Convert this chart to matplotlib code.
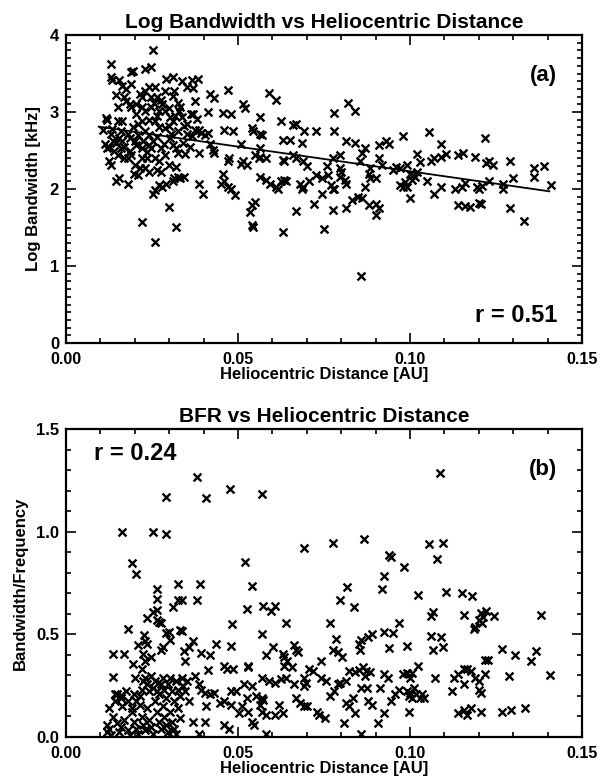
import matplotlib
matplotlib.use("Agg")
import matplotlib.pyplot as plt
from matplotlib.ticker import MultipleLocator
import numpy as np

plt.rcParams['font.family'] = ['Liberation Sans', 'DejaVu Sans']
plt.rcParams['font.weight'] = 'bold'

# ---------------- data: panel (a) ----------------
a_dist = [
    0.0253, 0.0130, 0.0130, 0.0135, 0.0153, 0.0190, 0.0195, 0.0230, 0.0247, 0.0145,
    0.0170, 0.0247, 0.0258, 0.0290, 0.0310, 0.0336, 0.0385, 0.0370, 0.0420, 0.0430,
    0.0470, 0.0590, 0.0610, 0.0515, 0.0520, 0.0456, 0.0480, 0.0414, 0.0370, 0.0362,
    0.0329, 0.0318, 0.0565, 0.0626, 0.0660, 0.0668, 0.0693, 0.0727, 0.0780, 0.0780,
    0.0820, 0.0840, 0.0815, 0.0840, 0.0776, 0.0796, 0.0980, 0.1056, 0.1090, 0.1217,
    0.1140, 0.1155, 0.1190, 0.1220, 0.1230, 0.1240, 0.1290, 0.1360, 0.1390, 0.1360,
    0.1300, 0.1270, 0.1270, 0.1410, 0.1290, 0.1330, 0.1140, 0.1160, 0.1175, 0.1205,
    0.1200, 0.1230, 0.1200, 0.1195, 0.1210, 0.1130, 0.1150, 0.1160, 0.1070, 0.1090,
    0.1060, 0.1070, 0.1090, 0.1105, 0.1030, 0.1020, 0.0950, 0.0960, 0.0970, 0.0990,
    0.0970, 0.0980, 0.0985, 0.0990, 0.1000, 0.1000, 0.1010, 0.1020, 0.1005, 0.1015,
    0.1050, 0.0910, 0.0930, 0.0940, 0.0910, 0.0920, 0.0900, 0.0885, 0.0870, 0.0860,
    0.0855, 0.0880, 0.0885, 0.0870, 0.0860, 0.0850, 0.0830, 0.0880, 0.0900, 0.0910,
    0.0900, 0.0857, 0.0815, 0.0776, 0.0750, 0.0720, 0.0670, 0.0630, 0.0540, 0.0545,
    0.0548, 0.0540, 0.0535, 0.0490, 0.0480, 0.0470, 0.0450, 0.0460, 0.0455, 0.0470,
    0.0475, 0.0485, 0.0460, 0.0510, 0.0515, 0.0527, 0.0510, 0.0540, 0.0545, 0.0565,
    0.0570, 0.0565, 0.0565, 0.0580, 0.0550, 0.0560, 0.0565, 0.0580, 0.0593, 0.0610,
    0.0615, 0.0625, 0.0635, 0.0640, 0.0630, 0.0635, 0.0630, 0.0650, 0.0660, 0.0670,
    0.0685, 0.0690, 0.0700, 0.0680, 0.0685, 0.0690, 0.0705, 0.0727, 0.0745, 0.0762,
    0.0770, 0.0776, 0.0760, 0.0745, 0.0796, 0.0800, 0.0796, 0.0810, 0.0815, 0.0780,
    0.0108, 0.0120, 0.0114, 0.0120, 0.0125, 0.0125, 0.0130, 0.0145, 0.0153, 0.0180,
    0.0150, 0.0164, 0.0153, 0.0164, 0.0180, 0.0186, 0.0190, 0.0203, 0.0215, 0.0220,
    0.0203, 0.0208, 0.0220, 0.0170, 0.0180, 0.0190, 0.0200, 0.0215, 0.0197, 0.0210,
    0.0242, 0.0247, 0.0253, 0.0231, 0.0242, 0.0259, 0.0264, 0.0276, 0.0280, 0.0287,
    0.0270, 0.0287, 0.0287, 0.0298, 0.0303, 0.0310, 0.0320, 0.0326, 0.0287, 0.0298,
    0.0320, 0.0326, 0.0331, 0.0343, 0.0315, 0.0310, 0.0292, 0.0280, 0.0270, 0.0259,
    0.0253, 0.0298, 0.0320, 0.0259, 0.0220, 0.0353, 0.0365, 0.0376, 0.0343, 0.0353,
    0.0380, 0.0387, 0.0392, 0.0404, 0.0414, 0.0420, 0.0426, 0.0431, 0.0387, 0.0387,
    0.0398, 0.0365, 0.0353, 0.0376, 0.0326, 0.0331, 0.0310, 0.0315, 0.0242, 0.0231,
    0.0190, 0.0164, 0.0175, 0.0175, 0.0186, 0.0220, 0.0231, 0.0248, 0.0150, 0.0159,
    0.0150, 0.0137, 0.0131, 0.0203, 0.0220, 0.0220, 0.0236, 0.0259, 0.0270, 0.0264,
    0.0276, 0.0231, 0.0242, 0.0303, 0.0310, 0.0326, 0.0337, 0.0276, 0.0115, 0.0135,
    0.0140, 0.0170, 0.0185, 0.0200, 0.0210, 0.0225, 0.0235, 0.0265, 0.0270, 0.0240,
    0.0255, 0.0265, 0.0300, 0.0305, 0.0340, 0.0345, 0.0360, 0.0285, 0.0195, 0.0160,
    0.0145,
]
a_logbw = [
    3.80, 3.62, 3.46, 3.42, 3.42, 3.52, 3.53, 3.56, 3.58, 3.22,
    3.20, 3.19, 3.32, 3.43, 3.46, 3.40, 3.43, 3.31, 3.23, 3.18,
    3.28, 3.25, 3.15, 3.10, 3.05, 2.99, 2.98, 3.00, 2.97, 2.97,
    3.01, 2.95, 2.93, 2.88, 2.83, 2.84, 2.75, 2.75, 2.75, 2.99,
    3.12, 3.01, 2.62, 2.60, 2.40, 2.44, 2.69, 2.74, 2.58, 2.66,
    2.44, 2.47, 2.42, 2.34, 2.36, 2.31, 2.36, 2.27, 2.30, 2.16,
    2.14, 2.07, 2.00, 2.05, 1.75, 1.59, 1.79, 1.78, 1.76, 1.80,
    1.82, 2.10, 2.00, 2.02, 2.04, 2.00, 2.03, 2.08, 1.94, 2.03,
    2.36, 2.40, 2.42, 2.45, 2.35, 2.46, 2.25, 2.28, 2.27, 2.31,
    2.05, 2.03, 2.09, 2.02, 1.88, 2.20, 2.18, 2.22, 2.12, 2.15,
    2.10, 2.57, 2.62, 2.58, 2.40, 2.31, 2.14, 2.27, 2.53, 2.47,
    2.36, 2.20, 2.14, 2.03, 1.88, 1.89, 1.86, 1.79, 1.81, 1.75,
    1.66, 0.87, 1.75, 1.73, 1.48, 1.81, 1.72, 1.44, 1.53, 1.51,
    1.83, 1.79, 1.70, 1.92, 2.00, 2.03, 2.07, 2.10, 2.20, 2.36,
    2.40, 2.75, 2.77, 2.58, 2.36, 2.31, 2.33, 2.79, 2.75, 2.72,
    2.70, 2.53, 2.42, 2.40, 2.44, 2.40, 2.16, 2.12, 2.07, 2.03,
    2.00, 2.10, 2.12, 2.10, 2.38, 2.36, 2.64, 2.64, 2.44, 2.40,
    2.60, 2.37, 2.30, 2.07, 2.00, 2.03, 2.10, 2.18, 2.14, 2.18,
    2.05, 2.00, 2.30, 1.94, 2.27, 2.22, 2.16, 2.12, 2.07, 2.00,
    2.76, 2.90, 2.58, 2.53, 2.55, 2.36, 2.31, 2.10, 2.14, 2.07,
    2.88, 2.88, 2.66, 2.62, 2.71, 2.66, 3.06, 3.10, 3.23, 3.19,
    2.97, 2.84, 2.88, 2.40, 2.40, 2.44, 2.31, 2.27, 2.20, 2.18,
    2.57, 2.53, 2.62, 2.75, 2.70, 2.88, 2.95, 3.15, 3.10, 3.27,
    3.01, 3.01, 2.79, 2.82, 2.66, 2.57, 2.53, 2.47, 2.44, 2.31,
    2.29, 2.16, 2.14, 2.16, 2.14, 2.10, 2.07, 2.03, 2.05, 1.99,
    1.94, 1.77, 1.51, 1.31, 1.57, 2.71, 2.69, 2.77, 2.82, 2.84,
    2.91, 2.77, 2.73, 2.70, 2.73, 2.58, 2.51, 2.47, 2.47, 2.07,
    1.94, 3.41, 3.32, 3.14, 3.12, 3.06, 3.21, 3.27, 3.32, 3.27,
    3.36, 3.34, 3.30, 3.14, 3.10, 3.06, 3.01, 3.06, 3.06, 2.53,
    2.44, 2.62, 2.71, 2.57, 2.53, 2.40, 2.40, 2.40, 2.36, 2.25,
    2.22, 2.27, 2.22, 2.93, 2.88, 2.75, 2.93, 2.53, 2.92, 2.78,
    2.50, 2.55, 2.50, 2.62, 2.70, 2.62, 2.48, 2.68, 2.80, 2.90,
    3.12, 3.20, 3.05, 2.72, 2.60, 2.45, 2.55, 2.58, 2.80, 2.75,
    2.60,
]
# fitted regression line (end points)
a_fit_dist = [0.0095, 0.1405]
a_fit_logbw = [2.81, 1.97]

# ---------------- data: panel (b) ----------------
b_dist = [
    0.0380, 0.0478, 0.0569, 0.0292, 0.0408, 0.1088, 0.0164, 0.0253, 0.0292, 0.0192,
    0.0203, 0.0521, 0.0541, 0.0691, 0.0777, 0.0866, 0.1056, 0.1095, 0.1079, 0.0940,
    0.0946, 0.0984, 0.0924, 0.0918, 0.0818, 0.0796, 0.0837, 0.1023, 0.1106, 0.1150,
    0.1180, 0.1380, 0.1156, 0.1068, 0.1062, 0.1206, 0.1213, 0.1200, 0.1208, 0.1190,
    0.1185, 0.1222, 0.1245, 0.1062, 0.1090, 0.1095, 0.1068, 0.1073, 0.0968, 0.0924,
    0.0951, 0.0890, 0.0879, 0.0857, 0.0851, 0.0855, 0.0940, 0.0990, 0.0768, 0.0785,
    0.0777, 0.0790, 0.0801, 0.0741, 0.0640, 0.0663, 0.0669, 0.0674, 0.0602, 0.0630,
    0.0635, 0.0641, 0.0633, 0.0580, 0.0574, 0.0607, 0.0596, 0.0569, 0.0525, 0.0482,
    0.0480, 0.0436, 0.0419, 0.0414, 0.0392, 0.0370, 0.0359, 0.0342, 0.0345, 0.0331,
    0.0336, 0.0326, 0.0336, 0.0326, 0.0390, 0.0380, 0.0312, 0.0292, 0.0298, 0.0303,
    0.0275, 0.0264, 0.0264, 0.0264, 0.0264, 0.0270, 0.0253, 0.0236, 0.0227, 0.0231,
    0.0236, 0.0208, 0.0181, 0.0170, 0.0136, 0.0136, 0.0142, 0.0159, 0.0194, 0.0200,
    0.0224, 0.0229, 0.0220, 0.0247, 0.0275, 0.0281,
    0.0375, 0.0386, 0.0392, 0.0403, 0.0420, 0.0370, 0.0403, 0.0386, 0.0408, 0.0430,
    0.0447, 0.0458, 0.0458, 0.0475, 0.0458, 0.0469, 0.0486, 0.0480, 0.0493, 0.0480,
    0.0502, 0.0513, 0.0525, 0.0516, 0.0530, 0.0530, 0.0530, 0.0541, 0.0547, 0.0541,
    0.0552, 0.0569, 0.0574, 0.0563, 0.0569, 0.0580, 0.0580, 0.0569, 0.0591, 0.0607,
    0.0624, 0.0640, 0.0619, 0.0630, 0.0607, 0.0657, 0.0663, 0.0669, 0.0680, 0.0691,
    0.0702, 0.0691, 0.0697, 0.0691, 0.0707, 0.0718, 0.0729, 0.0735, 0.0752, 0.0741,
    0.0757, 0.0768, 0.0779, 0.0790, 0.0796, 0.0813, 0.0824, 0.0807, 0.0813, 0.0824,
    0.0835, 0.0840, 0.0857, 0.0840, 0.0851, 0.0862, 0.0873, 0.0884, 0.0868, 0.0857,
    0.0874, 0.0879, 0.0890, 0.0907, 0.0913, 0.0924, 0.0924, 0.0935, 0.0946, 0.0957,
    0.0968, 0.0979, 0.0990, 0.1001, 0.1007, 0.0990, 0.1001, 0.1012, 0.0996, 0.1007,
    0.1018, 0.1029, 0.1034, 0.1040, 0.0996, 0.1023, 0.1123, 0.1128, 0.1140, 0.1156,
    0.1167, 0.1178, 0.1156, 0.1189, 0.1200, 0.1200, 0.1206, 0.1217, 0.1217, 0.1228,
    0.1140, 0.1156, 0.1167, 0.1206, 0.1178, 0.1267, 0.1295, 0.1334, 0.1267, 0.1306,
    0.1351, 0.1365, 0.1289, 0.1406,
    0.0120, 0.0120, 0.0125, 0.0130, 0.0136, 0.0147, 0.0153, 0.0159, 0.0170, 0.0181,
    0.0186, 0.0192, 0.0197, 0.0203, 0.0208, 0.0214, 0.0220, 0.0225, 0.0231, 0.0236,
    0.0242, 0.0247, 0.0253, 0.0258, 0.0264, 0.0269, 0.0275, 0.0281, 0.0286, 0.0292,
    0.0297, 0.0303, 0.0308, 0.0314, 0.0319, 0.0325, 0.0330,
    0.0125, 0.0142, 0.0147, 0.0159, 0.0164, 0.0175, 0.0181, 0.0192, 0.0197, 0.0203,
    0.0214, 0.0220, 0.0225, 0.0231, 0.0236, 0.0242, 0.0247, 0.0253, 0.0258, 0.0264,
    0.0269, 0.0275, 0.0281, 0.0286, 0.0292, 0.0297, 0.0303, 0.0308, 0.0314, 0.0319,
    0.0325, 0.0330, 0.0336, 0.0341, 0.0347, 0.0353, 0.0358,
]
b_bfr = [
    1.265, 1.210, 1.185, 1.170, 1.165, 1.285, 0.997, 0.997, 0.990, 0.848,
    0.793, 0.851, 0.736, 0.921, 0.947, 0.964, 0.942, 0.947, 0.868, 0.884,
    0.876, 0.826, 0.782, 0.719, 0.732, 0.666, 0.633, 0.691, 0.706, 0.699,
    0.689, 0.595, 0.593, 0.607, 0.587, 0.605, 0.585, 0.570, 0.555, 0.537,
    0.525, 0.615, 0.590, 0.491, 0.488, 0.438, 0.425, 0.289, 0.554, 0.512,
    0.507, 0.504, 0.488, 0.471, 0.455, 0.425, 0.435, 0.441, 0.554, 0.479,
    0.425, 0.413, 0.388, 0.369, 0.557, 0.446, 0.425, 0.413, 0.438, 0.405,
    0.388, 0.372, 0.347, 0.397, 0.640, 0.640, 0.612, 0.504, 0.623, 0.550,
    0.441, 0.451, 0.397, 0.326, 0.408, 0.468, 0.438, 0.421, 0.372, 0.520,
    0.515, 0.666, 0.669, 0.744, 0.744, 0.669, 0.633, 0.507, 0.512, 0.474,
    0.554, 0.719, 0.673, 0.620, 0.570, 0.562, 0.611, 0.578, 0.496, 0.468,
    0.455, 0.446, 0.524, 0.402, 0.402, 0.293, 0.207, 0.203, 0.355, 0.289,
    0.405, 0.372, 0.331, 0.388, 0.425, 0.438,
    0.298, 0.260, 0.231, 0.215, 0.207, 0.074, 0.074, 0.017, 0.149, 0.215,
    0.165, 0.174, 0.058, 0.041, 0.347, 0.331, 0.331, 0.223, 0.223, 0.157,
    0.116, 0.149, 0.190, 0.256, 0.347, 0.340, 0.124, 0.074, 0.058, 0.248,
    0.198, 0.190, 0.182, 0.157, 0.124, 0.107, 0.017, 0.289, 0.273, 0.264,
    0.281, 0.289, 0.157, 0.116, 0.107, 0.339, 0.256, 0.190, 0.165, 0.149,
    0.149, 0.289, 0.264, 0.248, 0.331, 0.322, 0.124, 0.107, 0.091, 0.289,
    0.273, 0.198, 0.223, 0.256, 0.264, 0.273, 0.322, 0.066, 0.165, 0.149,
    0.190, 0.116, 0.017, 0.315, 0.326, 0.339, 0.322, 0.315, 0.298, 0.240,
    0.240, 0.174, 0.157, 0.066, 0.240, 0.116, 0.306, 0.289, 0.174, 0.207,
    0.231, 0.306, 0.314, 0.289, 0.314, 0.223, 0.215, 0.240, 0.198, 0.190,
    0.207, 0.190, 0.207, 0.190, 0.124, 0.347, 0.223, 0.289, 0.306, 0.331,
    0.331, 0.322, 0.256, 0.289, 0.273, 0.231, 0.215, 0.306, 0.375, 0.375,
    0.116, 0.132, 0.107, 0.124, 0.140, 0.124, 0.132, 0.140, 0.430, 0.397,
    0.372, 0.421, 0.298, 0.302,
    0.058, 0.025, 0.041, 0.008, 0.099, 0.066, 0.025, 0.050, 0.083, 0.033,
    0.008, 0.124, 0.074, 0.041, 0.017, 0.157, 0.099, 0.058, 0.033, 0.140,
    0.083, 0.050, 0.017, 0.174, 0.124, 0.074, 0.041, 0.149, 0.099, 0.058,
    0.025, 0.124, 0.074, 0.041, 0.017, 0.140, 0.091,
    0.140, 0.174, 0.207, 0.190, 0.149, 0.223, 0.174, 0.140, 0.207, 0.174,
    0.198, 0.231, 0.273, 0.289, 0.256, 0.223, 0.298, 0.240, 0.273, 0.223,
    0.207, 0.256, 0.289, 0.231, 0.190, 0.256, 0.289, 0.223, 0.174, 0.273,
    0.231, 0.198, 0.289, 0.248, 0.223, 0.273, 0.174,
]

x_ticks = [0.00, 0.05, 0.10, 0.15]
x_ticklabels = ["0.00", "0.05", "0.10", "0.15"]
a_yticks = [0, 1, 2, 3, 4]
a_yticklabels = ["0", "1", "2", "3", "4"]
b_yticks = [0.0, 0.5, 1.0, 1.5]
b_yticklabels = ["0.0", "0.5", "1.0", "1.5"]

titles = ["Log Bandwidth vs Heliocentric Distance", "BFR vs Heliocentric Distance"]
ylabels = ["Log Bandwidth [kHz]", "Bandwidth/Frequency"]
xlabel = "Heliocentric Distance [AU]"

# ---------------- figure ----------------
fig = plt.figure(figsize=(6.01, 7.83), dpi=100)
W, H = 601, 783
ax_a = fig.add_axes([66 / W, 1 - 343 / H, (582 - 66) / W, (343 - 35) / H])
ax_b = fig.add_axes([66 / W, 1 - 737 / H, (582 - 66) / W, (737 - 429) / H])

mk = dict(marker='x', color='black', s=32, linewidths=1.7)

ax_a.scatter(a_dist, a_logbw, **mk)
ax_a.plot(a_fit_dist, a_fit_logbw, color='black', lw=1.3)
ax_b.scatter(b_dist, b_bfr, **mk)

for ax, title, ylab, yt, ytl, ylim, yminor in [
    (ax_a, titles[0], ylabels[0], a_yticks, a_yticklabels, (0, 4), 0.1),
    (ax_b, titles[1], ylabels[1], b_yticks, b_yticklabels, (0, 1.5), 0.1),
]:
    ax.set_xlim(0, 0.15)
    ax.set_ylim(*ylim)
    ax.set_xticks(x_ticks)
    ax.set_xticklabels(x_ticklabels)
    ax.set_yticks(yt)
    ax.set_yticklabels(ytl)
    ax.xaxis.set_minor_locator(MultipleLocator(0.01))
    ax.yaxis.set_minor_locator(MultipleLocator(yminor))
    ax.tick_params(which='both', direction='in', top=True, right=True, width=1.2)
    ax.tick_params(axis='x', labelsize=11.5, pad=6.5)
    ax.tick_params(axis='y', labelsize=12, pad=5)
    ax.tick_params(which='major', length=7)
    ax.tick_params(which='minor', length=3.5)
    for s in ax.spines.values():
        s.set_linewidth(1.6)
    ax.set_title(title, fontsize=15, fontweight='bold', pad=5)
    ax.set_ylabel(ylab, fontsize=12, fontweight='bold', labelpad=6)
    ax.set_xlabel(xlabel, fontsize=12, fontweight='bold', labelpad=0)

ax_a.text(0.952, 0.87, "(a)", transform=ax_a.transAxes, fontsize=16,
          fontweight='bold', ha='right', va='center')
ax_a.text(0.952, 0.09, "r = 0.51", transform=ax_a.transAxes, fontsize=17,
          fontweight='bold', ha='right', va='center')
ax_b.text(0.055, 0.92, "r = 0.24", transform=ax_b.transAxes, fontsize=17,
          fontweight='bold', ha='left', va='center')
ax_b.text(0.952, 0.87, "(b)", transform=ax_b.transAxes, fontsize=16,
          fontweight='bold', ha='right', va='center')

fig.savefig("out.png", dpi=100)
